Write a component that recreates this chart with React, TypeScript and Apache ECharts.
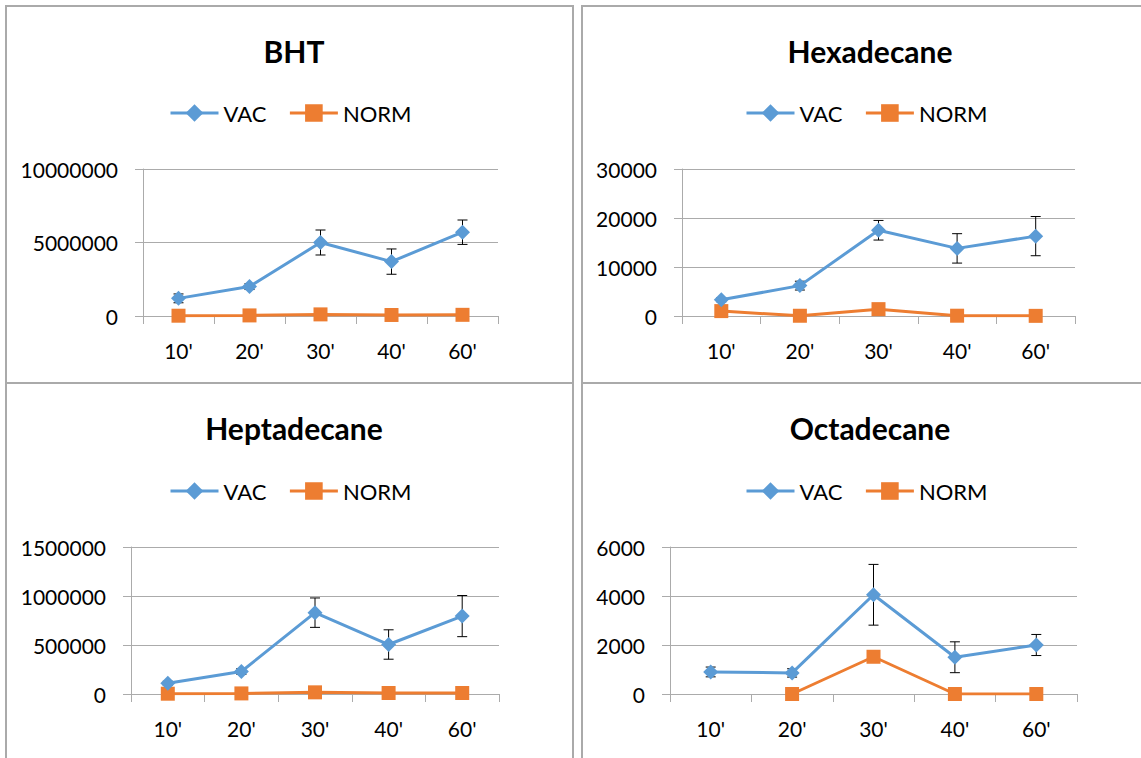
import React, { useEffect, useRef } from "react";
import * as echarts from "echarts";

// Sampling times shared by every panel
const categories = ["10'", "20'", "30'", "40'", "60'"];
const seriesNames = ["VAC", "NORM"];

// BHT
const bhtVac = [1200000, 2000000, 5000000, 3700000, 5700000];
const bhtVacErr = [300000, 200000, 850000, 860000, 830000];
const bhtNorm = [20000, 40000, 110000, 70000, 80000];

// Hexadecane
const hexVac = [3300, 6200, 17500, 13800, 16300];
const hexVacErr = [400, 900, 2000, 3000, 4000];
const hexNorm = [1000, 50, 1400, 60, 30];

// Heptadecane
const heptVac = [110000, 230000, 830000, 505000, 795000];
const heptVacErr = [20000, 30000, 150000, 150000, 210000];
const heptNorm = [3000, 6000, 17000, 10000, 10000];

// Octadecane (no NORM reading at 10')
const octVac = [900, 860, 4050, 1500, 2000];
const octVacErr = [200, 170, 1240, 630, 430];
const octNorm = [null, 0, 1520, 0, 0];

// y-axis ranges
const yMax = [10000000, 30000, 1500000, 6000];
const yStep = [5000000, 10000, 500000, 2000];

const titles = ["BHT", "Hexadecane", "Heptadecane", "Octadecane"];
const vacData = [bhtVac, hexVac, heptVac, octVac];
const vacErrData = [bhtVacErr, hexVacErr, heptVacErr, octVacErr];
const normData = [bhtNorm, hexNorm, heptNorm, octNorm];

// panel layout (pixels)
const gridBoxes = [
  { left: 143, top: 169, width: 355, height: 147 },
  { left: 682, top: 169, width: 393, height: 147 },
  { left: 131, top: 547, width: 368, height: 147 },
  { left: 670, top: 547, width: 407, height: 147 },
];
const titlePos = [
  { x: 289, y: 31 },
  { x: 865, y: 31 },
  { x: 289, y: 408 },
  { x: 865, y: 408 },
];
const legendPos = [
  { x: 164, y: 97 },
  { x: 740, y: 97 },
  { x: 164, y: 475 },
  { x: 740, y: 475 },
];
const panelRects = [
  { x: 6, y: 6, width: 567, height: 377 },
  { x: 582, y: 6, width: 570, height: 377 },
  { x: 6, y: 383, width: 567, height: 380 },
  { x: 582, y: 383, width: 570, height: 380 },
];

const FONT = "Lato, 'Open Sans', sans-serif";
const BLUE = "#5B9BD5";
const ORANGE = "#ED7D31";
const GRID_GRAY = "#ababab";

function errorBarRenderer(params: any, api: any) {
  const idx = api.value(0);
  const v = api.value(1);
  const e = api.value(2);
  const hi = api.coord([idx, v + e]);
  const lo = api.coord([idx, v - e]);
  const hw = 5;
  const style = { stroke: "#000", lineWidth: 1 };
  return {
    type: "group",
    children: [
      { type: "line", shape: { x1: hi[0], y1: hi[1], x2: lo[0], y2: lo[1] }, style },
      { type: "line", shape: { x1: hi[0] - hw, y1: hi[1], x2: hi[0] + hw, y2: hi[1] }, style },
      { type: "line", shape: { x1: lo[0] - hw, y1: lo[1], x2: lo[0] + hw, y2: lo[1] }, style },
    ],
  };
}

function buildOption() {
  const title: any[] = [];
  const legend: any[] = [];
  const grid: any[] = [];
  const xAxis: any[] = [];
  const yAxis: any[] = [];
  const series: any[] = [];

  titles.forEach((name, i) => {
    title.push({
      text: name,
      left: titlePos[i].x,
      top: titlePos[i].y,
      textAlign: "center",
      textStyle: { fontFamily: FONT, fontSize: 30, fontWeight: "bold", color: "#000" },
    });
    legend.push({
      data: seriesNames,
      left: legendPos[i].x,
      top: legendPos[i].y,
      itemWidth: 48,
      itemHeight: 22,
      itemGap: 22,
      lineStyle: { width: 3 },
      textStyle: { fontFamily: FONT, fontSize: 22, color: "#000" },
    });
    grid.push({ ...gridBoxes[i], containLabel: false });
    xAxis.push({
      type: "category",
      gridIndex: i,
      data: categories,
      boundaryGap: true,
      axisLine: { show: true, lineStyle: { color: GRID_GRAY, width: 1 } },
      axisTick: { show: true, length: 8, lineStyle: { color: GRID_GRAY } },
      axisLabel: { fontFamily: FONT, fontSize: 21, color: "#000", margin: 24 },
      splitLine: { show: false },
    });
    yAxis.push({
      type: "value",
      gridIndex: i,
      min: 0,
      max: yMax[i],
      interval: yStep[i],
      axisLine: { show: true, lineStyle: { color: GRID_GRAY, width: 1 } },
      axisTick: { show: true, length: 8, lineStyle: { color: GRID_GRAY } },
      axisLabel: {
        fontFamily: FONT,
        fontSize: 21,
        color: "#000",
        margin: 25,
        formatter: (v: number) => String(v),
      },
      splitLine: { show: true, lineStyle: { color: GRID_GRAY, width: 1 } },
    });
    series.push({
      type: "custom",
      name: "VAC error",
      xAxisIndex: i,
      yAxisIndex: i,
      z: 1,
      renderItem: errorBarRenderer,
      data: categories.map((_, k) => [k, vacData[i][k], vacErrData[i][k]]),
      silent: true,
    });
    series.push({
      type: "line",
      name: "VAC",
      xAxisIndex: i,
      yAxisIndex: i,
      z: 3,
      data: vacData[i],
      symbol: "diamond",
      symbolSize: 15,
      lineStyle: { color: BLUE, width: 3 },
      itemStyle: { color: BLUE },
    });
    series.push({
      type: "line",
      name: "NORM",
      xAxisIndex: i,
      yAxisIndex: i,
      z: 2,
      data: normData[i],
      symbol: "rect",
      symbolSize: 14,
      lineStyle: { color: ORANGE, width: 3 },
      itemStyle: { color: ORANGE },
    });
  });

  const graphic = panelRects.map((r) => ({
    type: "rect",
    shape: r,
    silent: true,
    z: -1,
    style: { fill: "none", stroke: "#aaaaaa", lineWidth: 2 },
  }));

  return {
    animation: false,
    backgroundColor: "#fff",
    textStyle: { fontFamily: FONT },
    title,
    legend,
    grid,
    xAxis,
    yAxis,
    series,
    graphic,
  };
}

export default function App() {
  const ref = useRef<HTMLDivElement>(null);
  useEffect(() => {
    if (!ref.current) return;
    const chart = echarts.init(ref.current, undefined, { renderer: "svg" });
    chart.setOption(buildOption() as any);
    return () => chart.dispose();
  }, []);
  return (
    <div
      ref={ref}
      style={{ position: "absolute", left: 0, top: 0, width: 1141, height: 758 }}
    />
  );
}
